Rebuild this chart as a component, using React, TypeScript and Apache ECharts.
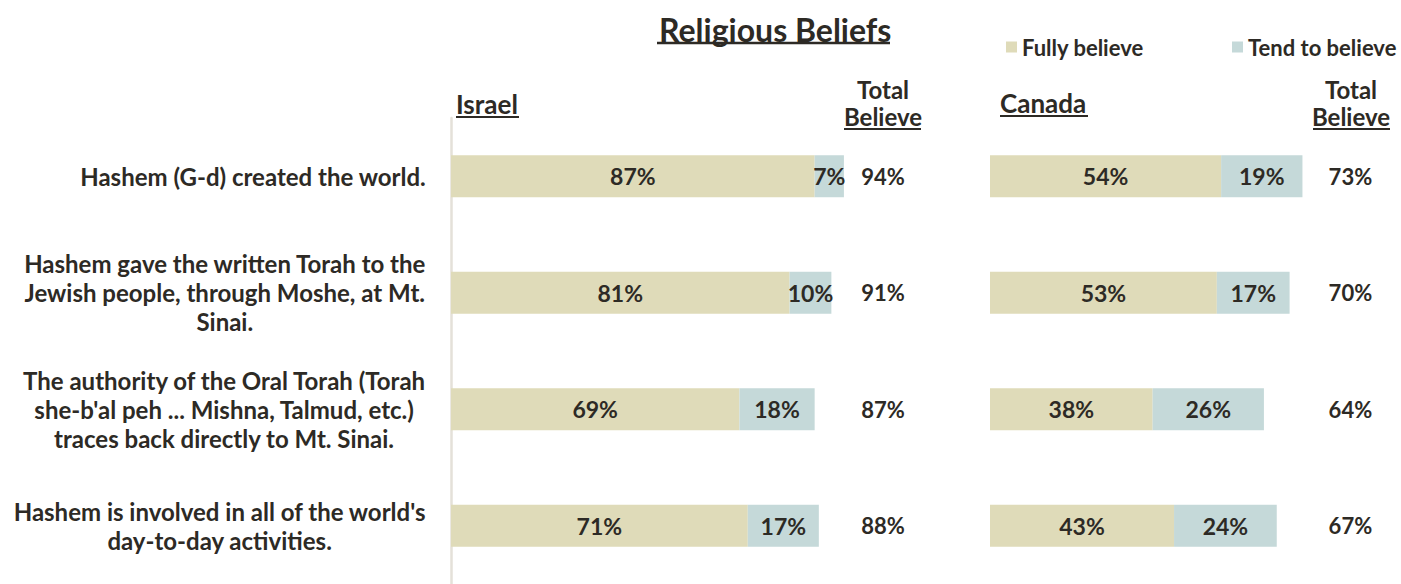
import React, { useEffect, useRef } from "react";
import * as echarts from "echarts";

const categories = [
  "Hashem (G-d) created the world.",
  "Hashem gave the written Torah to the\nJewish people, through Moshe, at Mt.\nSinai.",
  "The authority of the Oral Torah (Torah\nshe-b'al peh ... Mishna, Talmud, etc.)\ntraces back directly to Mt. Sinai.",
  "Hashem is involved in all of the world's\nday-to-day activities.",
];
const seriesNames = ["Fully believe", "Tend to believe"];
const israelFully = [87, 81, 69, 71];
const israelTend = [7, 10, 18, 17];
const israelTotal = [94, 91, 87, 88];
const canadaFully = [54, 53, 38, 43];
const canadaTend = [19, 17, 26, 24];
const canadaTotal = [73, 70, 64, 67];

const FULLY = "#DFDBB9";
const TEND = "#C5D9D9";
const TXT = "#2D2A25";
const FONT = "Lato";

export default function App() {
  const ref = useRef<HTMLDivElement>(null);
  useEffect(() => {
    if (!ref.current) return;
    const chart = echarts.init(ref.current, null, { renderer: "svg" });
    const GRID_TOP = 118;
    const GRID_H = 472;
    const barLabel = {
      show: true,
      position: "inside",
      formatter: "{c}%",
      color: TXT,
      fontFamily: FONT,
      fontWeight: "bold",
      fontSize: 23,
    };
    const totalAxis = (gridIndex: number, totals: number[], margin: number) => ({
      type: "category",
      gridIndex,
      position: "right",
      inverse: true,
      data: totals.map((t) => t + "%"),
      axisLine: { show: false },
      axisTick: { show: false },
      axisLabel: {
        margin,
        align: "center",
        color: TXT,
        fontFamily: FONT,
        fontWeight: "bold",
        fontSize: 22,
      },
    });
    const legendText = {
      color: TXT,
      fontFamily: FONT,
      fontWeight: "bold",
      fontSize: 22,
    };
    const hdr = (text: string, x: number, y: number, align: string, size: number) => ({
      type: "text",
      x,
      y,
      style: {
        text,
        fill: TXT,
        font: `bold ${size}px ${FONT}`,
        textAlign: align,
        textVerticalAlign: "middle",
      },
    });
    const uline = (x1: number, x2: number, y: number, w = 2) => ({
      type: "line",
      shape: { x1, y1: y, x2, y2: y },
      style: { stroke: TXT, lineWidth: w },
    });
    chart.setOption({
      animation: false,
      backgroundColor: "#ffffff",
      title: {
        text: "Religious Beliefs",
        left: 659,
        top: 13,
        padding: 0,
        textStyle: { color: TXT, fontFamily: FONT, fontWeight: "bold", fontSize: 32 },
      },
      legend: [
        {
          data: [seriesNames[0]],
          left: 1006,
          top: 36,
          padding: 0,
          itemWidth: 11,
          itemHeight: 11,
          icon: "rect",
          textStyle: legendText,
          selectedMode: false,
        },
        {
          data: [seriesNames[1]],
          left: 1232,
          top: 36,
          padding: 0,
          itemWidth: 11,
          itemHeight: 11,
          icon: "rect",
          textStyle: legendText,
          selectedMode: false,
        },
      ],
      grid: [
        { left: 451, top: GRID_TOP, width: 418, height: GRID_H },
        { left: 990, top: GRID_TOP, width: 342.4, height: GRID_H },
      ],
      xAxis: [
        { type: "value", gridIndex: 0, min: 0, max: 100, show: false },
        { type: "value", gridIndex: 1, min: 0, max: 80, show: false },
      ],
      yAxis: [
        {
          type: "category",
          gridIndex: 0,
          inverse: true,
          data: categories,
          axisLine: { show: true, lineStyle: { color: "#E4E1D9", width: 2.5 } },
          axisTick: { show: false },
          axisLabel: {
            margin: 25,
            align: "right",
            formatter: (v: string) =>
              v
                .split("\n")
                .map((l) => `{c|${l}}`)
                .join("\n"),
            rich: {
              c: {
                align: "center",
                color: TXT,
                fontFamily: FONT,
                fontWeight: "bold",
                fontSize: 24,
                lineHeight: 29,
              },
            },
          },
        },
        totalAxis(0, israelTotal, 14),
        {
          type: "category",
          gridIndex: 1,
          inverse: true,
          data: categories,
          axisLine: { show: false },
          axisTick: { show: false },
          axisLabel: { show: false },
        },
        totalAxis(1, canadaTotal, 18),
      ],
      series: [
        {
          name: seriesNames[0],
          type: "bar",
          stack: "israel",
          xAxisIndex: 0,
          yAxisIndex: 0,
          barWidth: 42,
          data: israelFully,
          itemStyle: { color: FULLY },
          label: barLabel,
        },
        {
          name: seriesNames[1],
          type: "bar",
          stack: "israel",
          xAxisIndex: 0,
          yAxisIndex: 0,
          barWidth: 42,
          data: israelTend,
          itemStyle: { color: TEND },
          label: barLabel,
        },
        {
          name: seriesNames[0],
          type: "bar",
          stack: "canada",
          xAxisIndex: 1,
          yAxisIndex: 2,
          barWidth: 42,
          data: canadaFully,
          itemStyle: { color: FULLY },
          label: barLabel,
        },
        {
          name: seriesNames[1],
          type: "bar",
          stack: "canada",
          xAxisIndex: 1,
          yAxisIndex: 2,
          barWidth: 42,
          data: canadaTend,
          itemStyle: { color: TEND },
          label: barLabel,
        },
      ],
      graphic: [
        uline(657, 890, 43, 2.5),
        hdr("Israel", 456, 104, "left", 26),
        uline(456, 519, 117),
        hdr("Total", 883, 89, "center", 24),
        hdr("Believe", 883, 116, "center", 24),
        uline(844, 921, 129),
        hdr("Canada", 1000, 103, "left", 26),
        uline(1000, 1088, 116),
        hdr("Total", 1351, 89, "center", 24),
        hdr("Believe", 1351, 116, "center", 24),
        uline(1313, 1390, 129),
      ],
    });
    return () => chart.dispose();
  }, []);
  return (
    <div
      ref={ref}
      style={{ position: "absolute", left: 0, top: 0, width: 1401, height: 584 }}
    />
  );
}
